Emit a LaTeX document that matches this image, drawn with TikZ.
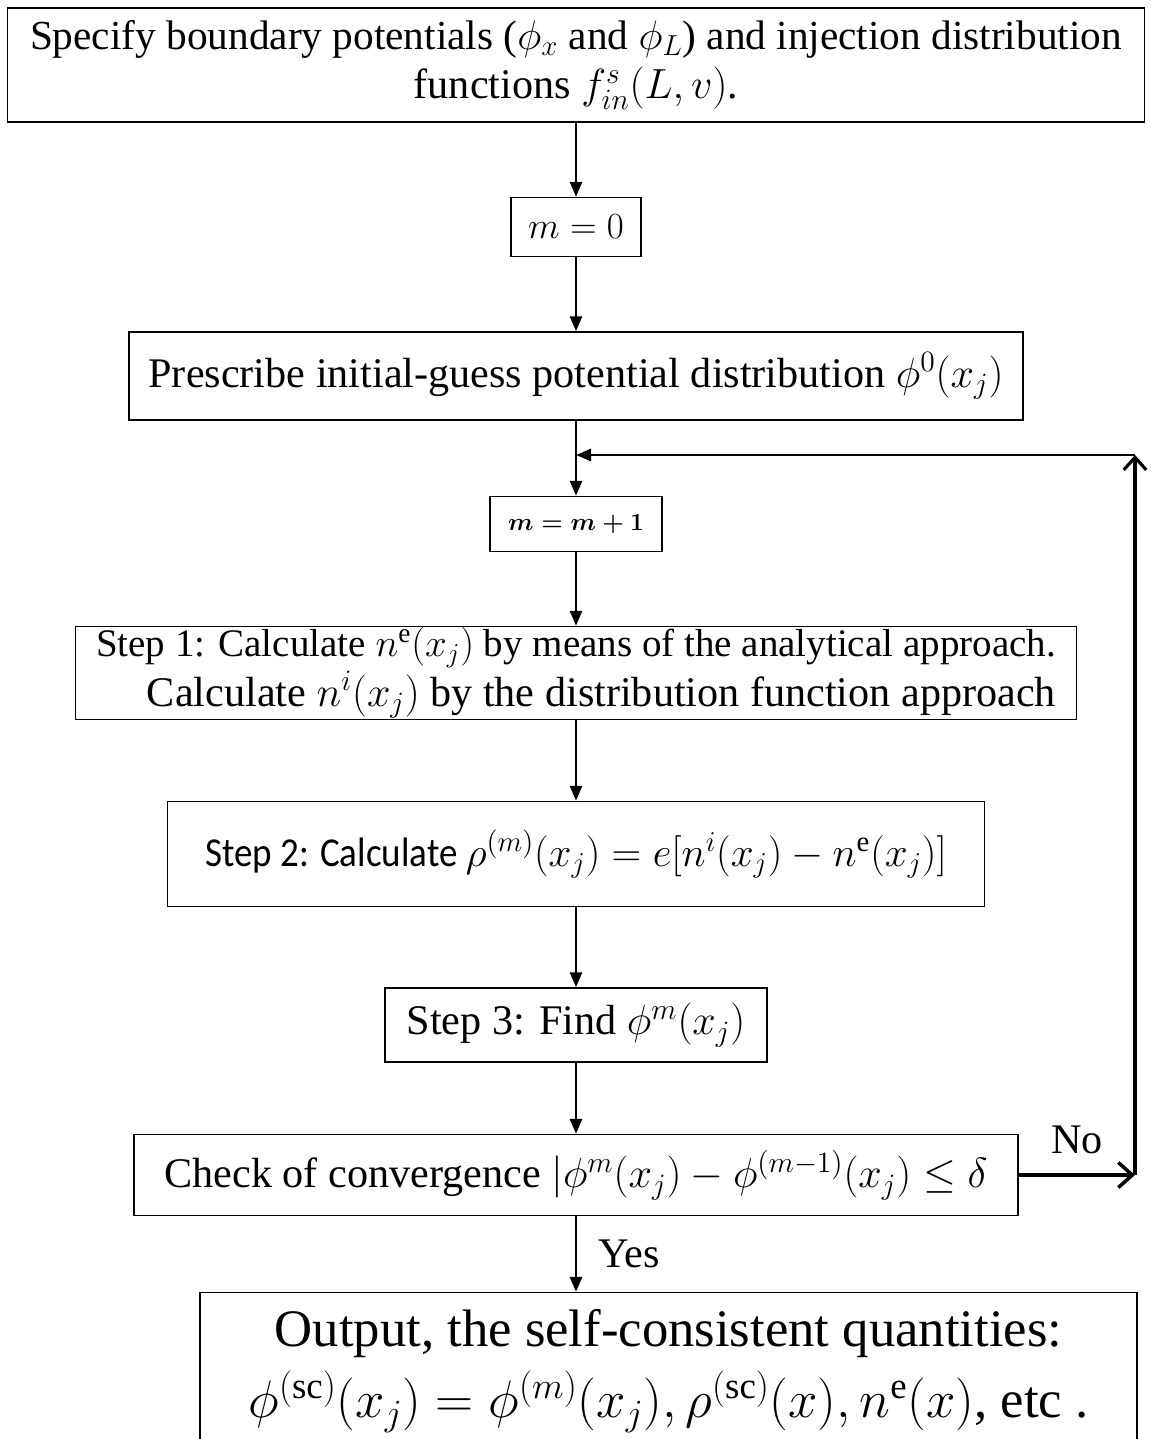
\documentclass[tikz,border=0pt]{standalone}
\usepackage{fix-cm}
\usepackage{amsmath}
\usepackage{amssymb}
\usepackage{fontspec}
\setmainfont{Liberation Serif}
\newfontfamily\stepfont[FakeStretch=0.9]{Carlito}
\usetikzlibrary{positioning,arrows.meta}

\begin{document}
\begin{tikzpicture}[
        stepbox/.style={rectangle, draw=black, line width=0.8pt, inner sep=0pt, align=center},
        flow/.style={line width=1.6pt, -{Triangle[length=0.3cm,width=0.24cm]}},
        loopline/.style={line width=2.6pt},
        font=\fontsize{24}{28}\selectfont
    ]
    \useasboundingbox (0,0) rectangle (23,-28.78);

    % ---------- parameters ----------
    \def\colx{11.52}

    % ---------- boxes ----------
    \node[stepbox, minimum width=22.74cm, minimum height=2.28cm] (spec) at (\colx, -1.3)
        {\fontsize{23.5}{29}\selectfont Specify boundary potentials ($\phi_x$ and $\phi_L$) and injection distribution\\
         functions $f_{in}^{s}(L,v)$.};
    \node[stepbox, minimum width=2.6cm, minimum height=1.18cm] (mzero) at (\colx, -4.54)
        {\fontsize{21}{24}\selectfont $m=0$};
    \node[stepbox, minimum width=17.88cm, minimum height=1.76cm] (guess) at (\colx, -7.52)
        {Prescribe initial-guess potential distribution $\phi^{0}(x_j)$};
    \node[stepbox, minimum width=3.44cm, minimum height=1.1cm] (mnext) at (\colx, -10.48)
        {\fontsize{14}{16}\selectfont $\boldsymbol{m=m+1}$};
    \node[stepbox, align=right, minimum width=20.02cm, minimum height=1.86cm] (stepone) at (\colx, -13.46)
        {\fontsize{22.2}{27}\selectfont Step 1: Calculate $n^{\mathrm{e}}(x_j)$ by means of the analytical approach.\\
         Calculate $n^{i}(x_j)$ by the distribution function approach};
    \node[stepbox, minimum width=16.34cm, minimum height=2.1cm] (steptwo) at (\colx, -17.08)
        {\stepfont\fontsize{23.4}{28}\selectfont Step 2: Calculate $\rho^{(m)}{\left(x_j\right)} = e[n^{i}{\left(x_j\right)} - n^{\mathrm{e}}(x_j)]$};
    \node[stepbox, minimum width=7.64cm, minimum height=1.48cm] (stepthree) at (\colx, -20.5)
        {Step 3: Find $\phi^{m}(x_j)$};
    \node[stepbox, minimum width=17.68cm, minimum height=1.62cm] (check) at (\colx, -23.5)
        {Check of convergence $|\phi^{m}{\left(x_j\right)} - \phi^{(m-1)}{\left(x_j\right)} \leq \delta$};
    \node[stepbox, minimum width=18.74cm, minimum height=3.74cm, text depth=0.9cm] (output) at (13.37, -27.72)
        {\fontsize{30}{35}\selectfont Output, the self-consistent quantities:\\[6pt]
         \fontsize{30}{35}\selectfont $\phi^{(\mathrm{sc})}{\left(x_j\right)} = \phi^{(m)}{\left(x_j\right)}, \rho^{(\mathrm{sc})}(x), n^{\mathrm{e}}(x)$, etc .};

    % ---------- loop coordinates ----------
    \coordinate (join) at (\colx, -9.1);
    \coordinate (loopR) at (22.7, -23.5);
    \coordinate (loopT) at (22.7, -9.1);

    % ---------- connectors ----------
    \draw[flow] (spec) -- (mzero);
    \draw[flow] (mzero) -- (guess);
    \draw[flow] (guess) -- (mnext);
    \draw[flow] (mnext) -- (stepone);
    \draw[flow] (stepone) -- (steptwo);
    \draw[flow] (steptwo) -- (stepthree);
    \draw[flow] (stepthree) -- (check);
    \draw[flow] (check.south) -- (check.south |- output.north)
        node[midway, right=0.3cm] {Yes};

    % ---------- feedback ----------
    \draw[loopline, -{Straight Barb[length=0.28cm,width=0.5cm,line width=2pt]}] (check) -- (loopR)
        node[pos=0.5, above=0.25cm] {No};
    \draw[line width=2pt, -{Straight Barb[length=0.25cm,width=0.45cm,line width=1.8pt]}] (loopR) -- (loopT);
    \draw[flow] (loopT) -- (join);

\end{tikzpicture}
\end{document}
